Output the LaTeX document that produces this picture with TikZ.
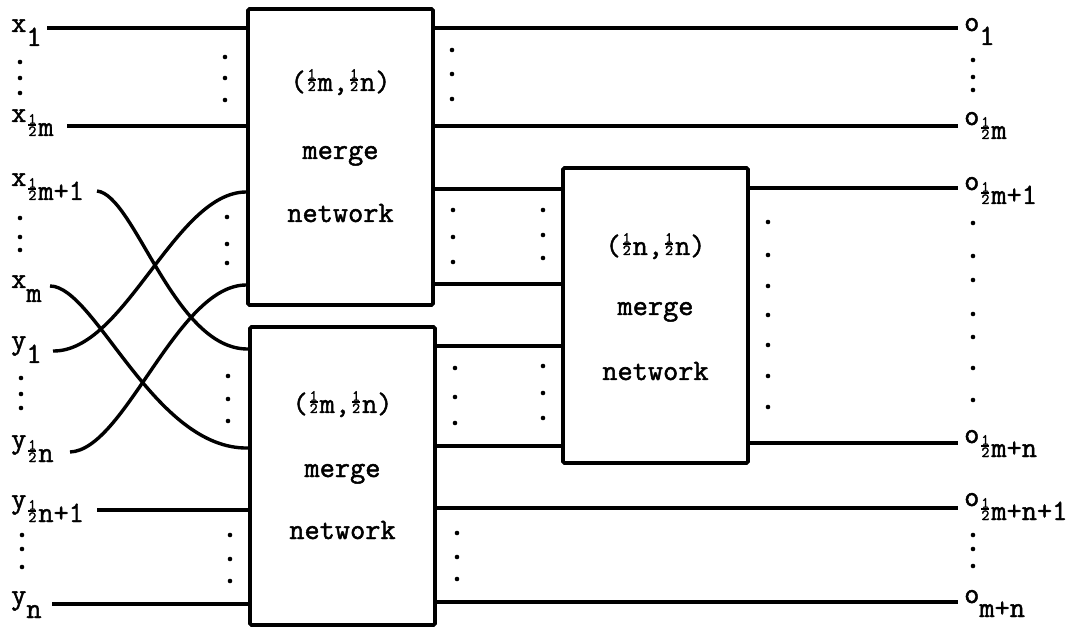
\documentclass[tikz,border=0pt]{standalone}
\usepackage{fontspec}
\newfontfamily\tw{Latin Modern Mono}[FakeBold=1.6]
\newcommand\lbl{\tw\fontsize{29.5}{31}\selectfont}
\newcommand\hf{\makebox[12pt]{\fontsize{15.5}{15.5}\selectfont\vbox{\offinterlineskip\halign{\hfil##\hfil\cr 1\cr\noalign{\kern0.6pt\hrule height 1.4pt\kern0.6pt}2\cr}}}}
\newcommand\subl[1]{\raisebox{-14pt}{#1}}
\begin{document}
\begin{tikzpicture}[x=1pt,y=-1pt,
  wire/.style={line width=3.4pt},
  mbox/.style={draw,line width=3.6pt,rounded corners=1.5pt,minimum width=185pt,inner sep=0pt},
  lab/.style={anchor=base west,inner sep=0pt,font=\lbl},
  btxt/.style={anchor=base,inner sep=0pt,font=\lbl},
  dot/.style={circle,fill,inner sep=0pt,minimum size=4.6pt}]
\useasboundingbox (0,0) rectangle (1077,628);

% boxes
\node[mbox,minimum height=296pt] (A) at (340.5,157) {};
\node[mbox,minimum height=298pt] (B) at (342.5,476) {};
\node[mbox,minimum height=295pt] (C) at (655.5,315.5) {};

\node[btxt] (A1) at (340.5,91) {(\hf m,\hf n)};
\node[btxt] (A2) at (340.5,159) {merge};
\node[btxt] (A3) at (340.5,222) {network};
\node[btxt] (B1) at (342.5,413) {(\hf m,\hf n)};
\node[btxt] (B2) at (342.5,477) {merge};
\node[btxt] (B3) at (342.5,539) {network};
\node[btxt] (C1) at (655.5,255) {(\hf n,\hf n)};
\node[btxt] (C2) at (655.5,315) {merge};
\node[btxt] (C3) at (655.5,380) {network};

% input labels
\node[lab] (x1) at (11,32) {x\subl{1}};
\node[lab] (xh) at (11,122) {x\subl{\hf m}};
\node[lab] (xh1) at (11,186) {x\subl{\hf m+1}};
\node[lab] (xm) at (11,288) {x\subl{m}};
\node[lab] (y1) at (11,349) {y\subl{1}};
\node[lab] (yh) at (11,448) {y\subl{\hf n}};
\node[lab] (yh1) at (11,508) {y\subl{\hf n+1}};
\node[lab] (yn) at (11,604) {y\subl{n}};

% output labels
\node[lab] (o1) at (964,31) {o\subl{1}};
\node[lab] (oh) at (964,125) {o\subl{\hf m}};
\node[lab] (oh1) at (964,190) {o\subl{\hf m+1}};
\node[lab] (ohn) at (964,443) {o\subl{\hf m+n}};
\node[lab] (ohn1) at (964,506) {o\subl{\hf m+n+1}};
\node[lab] (omn) at (964,603) {o\subl{m+n}};

% wire end coordinates
\coordinate (sx1) at (47,28);
\coordinate (sxh) at (67,126);
\coordinate (sxh1) at (97,191);
\coordinate (sxm) at (50,286);
\coordinate (sy1) at (53,351);
\coordinate (syh) at (70,452);
\coordinate (syh1) at (97,510);
\coordinate (syn) at (52,604);
\coordinate (e1) at (958,28);
\coordinate (e2) at (958,126);
\coordinate (e3) at (958,188);
\coordinate (e4) at (958,443);
\coordinate (e5) at (958,508);
\coordinate (e6) at (958,602);
\coordinate (ra) at (0,189);
\coordinate (rb) at (0,284);
\coordinate (rc) at (0,346);
\coordinate (rd) at (0,446);
\coordinate (ia) at (0,192);
\coordinate (ib) at (0,285);
\coordinate (ic) at (0,349);
\coordinate (id) at (0,448);

% straight inputs
\draw[wire] (sx1) -- (sx1 -| A.west);
\draw[wire] (sxh) -- (sxh -| A.west);
\draw[wire] (syh1) -- (syh1 -| B.west);
\draw[wire] (syn) -- (syn -| B.west);

% crossing inputs
\draw[wire] (sxh1) .. controls (135,195) and (174,350) .. (B.west |- ic);
\draw[wire] (sxm) .. controls (95,286) and (154,450) .. (B.west |- id);
\draw[wire] (sy1) .. controls (125,352) and (175,192) .. (A.west |- ia);
\draw[wire] (syh) .. controls (125,450) and (177,285) .. (A.west |- ib);

% outputs
\draw[wire] (A.east |- e1) -- (e1);
\draw[wire] (A.east |- e2) -- (e2);
\draw[wire] (A.east |- ra) -- (C.west |- ra);
\draw[wire] (A.east |- rb) -- (C.west |- rb);
\draw[wire] (B.east |- rc) -- (C.west |- rc);
\draw[wire] (B.east |- rd) -- (C.west |- rd);
\draw[wire] (C.east |- e3) -- (e3);
\draw[wire] (C.east |- e4) -- (e4);
\draw[wire] (B.east |- e5) -- (e5);
\draw[wire] (B.east |- e6) -- (e6);

% dots
\foreach \x/\y in {20/62,20/78,20/93, 20/218,20/237,20/250, 21/378,21/394,21/408, 22/535,22/549,22/567,
  225/57,225/78,225/100, 227/217,227/244,227/263,
  228/376,228/399,228/421, 230/535,230/559,230/581,
  452/50,452/74,452/99, 453/210,453/237,453/262, 543/210,543/235,543/258,
  455/368,455/397,455/423, 543/366,543/393,543/418, 457/533,457/557,457/579,
  768/222,768/255,768/286,768/315,768/345,768/376,768/407,
  973/60,973/77,973/90, 973/223,973/256,973/280,973/314,973/337,973/368,973/400,
  973/535,973/549,973/566}
  \node[dot] at (\x,\y) {};
\end{tikzpicture}
\end{document}
